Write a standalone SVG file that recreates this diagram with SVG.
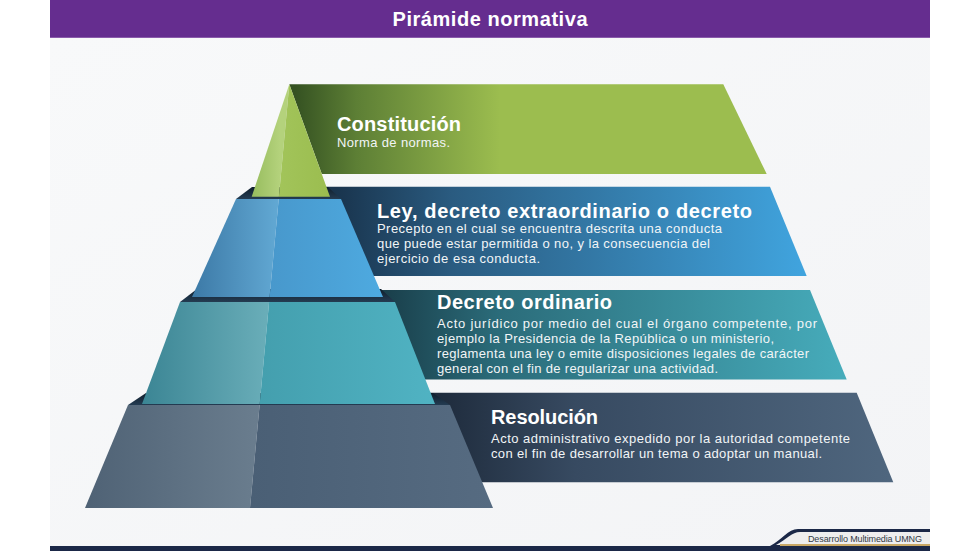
<svg xmlns="http://www.w3.org/2000/svg" width="980" height="551" viewBox="0 0 980 551">
  <defs>
    <style>
      .ttl { font-family: "Liberation Sans", Arial, sans-serif; font-weight: bold; font-size: 20px; fill: #ffffff; }
      .dsc { font-family: "Liberation Sans", Arial, sans-serif; font-size: 13px; fill: #f2f5f7; }
      .hdr { font-family: "Liberation Sans", Arial, sans-serif; font-weight: bold; font-size: 20px; fill: #ffffff; }
      .ftr { font-family: "Liberation Sans", Arial, sans-serif; font-size: 9px; fill: #333a44; }
      .div { stroke: #ffffff; stroke-opacity: 0.12; stroke-width: 1; }
    </style>
    <linearGradient id="bgG" x1="0" y1="0" x2="1" y2="1">
      <stop offset="0" stop-color="#f8f9fa"/>
      <stop offset="1" stop-color="#f3f4f6"/>
    </linearGradient>
    <linearGradient id="bn1" gradientUnits="userSpaceOnUse" x1="295" y1="0" x2="500" y2="0">
      <stop offset="0" stop-color="#355222"/>
      <stop offset="0.3" stop-color="#5d7f35"/>
      <stop offset="1" stop-color="#9cbd4f"/>
    </linearGradient>
    <linearGradient id="bn2" gradientUnits="userSpaceOnUse" x1="335" y1="0" x2="800" y2="0">
      <stop offset="0" stop-color="#19344d"/>
      <stop offset="0.25" stop-color="#2a5b80"/>
      <stop offset="1" stop-color="#40a3dd"/>
    </linearGradient>
    <linearGradient id="bn3" gradientUnits="userSpaceOnUse" x1="385" y1="0" x2="840" y2="0">
      <stop offset="0" stop-color="#1a3f4b"/>
      <stop offset="0.25" stop-color="#2b6c7a"/>
      <stop offset="1" stop-color="#46abba"/>
    </linearGradient>
    <linearGradient id="bn4" gradientUnits="userSpaceOnUse" x1="440" y1="0" x2="890" y2="0">
      <stop offset="0" stop-color="#1f2c3d"/>
      <stop offset="0.3" stop-color="#374a61"/>
      <stop offset="1" stop-color="#4f667e"/>
    </linearGradient>
    <linearGradient id="capG" x1="0" y1="0" x2="0" y2="1">
      <stop offset="0" stop-color="#0f1e2c"/>
      <stop offset="1" stop-color="#243c52"/>
    </linearGradient>
    <linearGradient id="g1L" gradientUnits="userSpaceOnUse" x1="250" y1="0" x2="280" y2="0">
      <stop offset="0" stop-color="#95bb5c"/>
      <stop offset="1" stop-color="#b4d27c"/>
    </linearGradient>
    <linearGradient id="g1R" gradientUnits="userSpaceOnUse" x1="279" y1="0" x2="330" y2="0">
      <stop offset="0" stop-color="#a2c45a"/>
      <stop offset="1" stop-color="#9bbd4f"/>
    </linearGradient>
    <linearGradient id="g2L" gradientUnits="userSpaceOnUse" x1="192" y1="0" x2="279" y2="0">
      <stop offset="0" stop-color="#3c79a6"/>
      <stop offset="1" stop-color="#62a9d4"/>
    </linearGradient>
    <linearGradient id="g2R" gradientUnits="userSpaceOnUse" x1="270" y1="0" x2="383" y2="0">
      <stop offset="0" stop-color="#4898cc"/>
      <stop offset="1" stop-color="#4eaae0"/>
    </linearGradient>
    <linearGradient id="g3L" gradientUnits="userSpaceOnUse" x1="142" y1="0" x2="269" y2="0">
      <stop offset="0" stop-color="#3b8594"/>
      <stop offset="1" stop-color="#6aaeb9"/>
    </linearGradient>
    <linearGradient id="g3R" gradientUnits="userSpaceOnUse" x1="260" y1="0" x2="435" y2="0">
      <stop offset="0" stop-color="#449fae"/>
      <stop offset="1" stop-color="#50b3c3"/>
    </linearGradient>
    <linearGradient id="g4L" gradientUnits="userSpaceOnUse" x1="85" y1="0" x2="259" y2="0">
      <stop offset="0" stop-color="#4f6275"/>
      <stop offset="1" stop-color="#6a7d8e"/>
    </linearGradient>
    <linearGradient id="g4R" gradientUnits="userSpaceOnUse" x1="250" y1="0" x2="493" y2="0">
      <stop offset="0" stop-color="#4a5f75"/>
      <stop offset="1" stop-color="#566b81"/>
    </linearGradient>
  </defs>

  <!-- page -->
  <rect x="0" y="0" width="980" height="551" fill="#ffffff"/>
  <rect x="50" y="38" width="880" height="508" fill="url(#bgG)"/>

  <!-- header -->
  <g id="header">
    <rect x="50" y="0" width="880" height="38" fill="#652d8f"/>
    <rect x="50" y="37" width="880" height="1" fill="#8a5bab"/>
    <text class="hdr" x="490" y="26" text-anchor="middle" textLength="195">Pirámide normativa</text>
  </g>

  <!-- banners (behind pyramid) -->
  <g id="banners">
    <polygon points="289.3,84.3 723.3,84.3 766.7,174 321.8,174" fill="url(#bn1)"/>
    <polygon points="300,186.7 770,186.7 806.7,276 300,276" fill="url(#bn2)"/>
    <polygon points="360,290 810,290 846.7,379.5 360,379.5" fill="url(#bn3)"/>
    <polygon points="420,392.7 856.7,392.7 893.3,482.3 420,482.3" fill="url(#bn4)"/>
  </g>

  <!-- step shadows -->
  <g id="steps">
    <polygon points="252,187 236,199 341,199 328,187" fill="url(#capG)"/>
    <polygon points="197,289 180,302 395,302 381,289" fill="url(#capG)"/>
    <polygon points="146,393 128,405 450,405 433,393" fill="url(#capG)"/>
  </g>

  <!-- tier 1 -->
  <g id="node-constitucion">
    <polygon points="289.3,84.3 251.7,196.7 278.9,196.7" fill="url(#g1L)"/>
    <polygon points="289.3,84.3 278.9,196.7 330,196.7" fill="url(#g1R)"/>
    <text class="ttl" x="337" y="131" textLength="124">Constitución</text>
    <text class="dsc" x="337" y="147" textLength="113">Norma de normas.</text>
  </g>

  <!-- tier 2 -->
  <g id="node-ley">
    <polygon points="236,199 278.7,199 269.6,297 192,297" fill="url(#g2L)"/>
    <polygon points="278.7,199 341,199 383,297 269.6,297" fill="url(#g2R)"/>
    <text class="ttl" x="377" y="218" textLength="375">Ley, decreto extraordinario o decreto</text>
    <text class="dsc" x="377" y="233" textLength="345">Precepto en el cual se encuentra descrita una conducta</text>
    <text class="dsc" x="377" y="248" textLength="333">que puede estar permitida o no, y la consecuencia del</text>
    <text class="dsc" x="377" y="263" textLength="163">ejercicio de esa conducta.</text>
  </g>

  <!-- tier 3 -->
  <g id="node-decreto-ordinario">
    <polygon points="180,302 269.1,302 259.7,404 142,404" fill="url(#g3L)"/>
    <polygon points="269.1,302 395,302 435,404 259.7,404" fill="url(#g3R)"/>
    <text class="ttl" x="437" y="309" textLength="175">Decreto ordinario</text>
    <text class="dsc" x="437" y="328" textLength="380">Acto jurídico por medio del cual el órgano competente, por</text>
    <text class="dsc" x="437" y="343" textLength="337">ejemplo la Presidencia de la República o un ministerio,</text>
    <text class="dsc" x="437" y="358" textLength="372">reglamenta una ley o emite disposiciones legales de carácter</text>
    <text class="dsc" x="437" y="373" textLength="281">general con el fin de regularizar una actividad.</text>
  </g>

  <!-- tier 4 -->
  <g id="node-resolucion">
    <polygon points="128,405 259.6,405 250,508 85,508" fill="url(#g4L)"/>
    <polygon points="259.6,405 450,405 493,508 250,508" fill="url(#g4R)"/>
    <text class="ttl" x="491" y="424" textLength="107">Resolución</text>
    <text class="dsc" x="491" y="443" textLength="359">Acto administrativo expedido por la autoridad competente</text>
    <text class="dsc" x="491" y="458" textLength="331">con el fin de desarrollar un tema o adoptar un manual.</text>
  </g>

  <!-- footer -->
  <g id="footer">
    <rect x="50" y="546" width="880" height="5" fill="#1b2847"/>
    <path d="M770,546 C782,540 788,529 798,529 L930,529 L930,546 Z" fill="#1b2847"/>
    <path d="M776,545 C787,539 792,532 800,532 L930,532 L930,545 Z" fill="#eeeeee"/>
    <rect x="780" y="544" width="150" height="2" fill="#c9a865"/>
    <text class="ftr" x="808" y="542" textLength="114">Desarrollo Multimedia UMNG</text>
  </g>
</svg>
